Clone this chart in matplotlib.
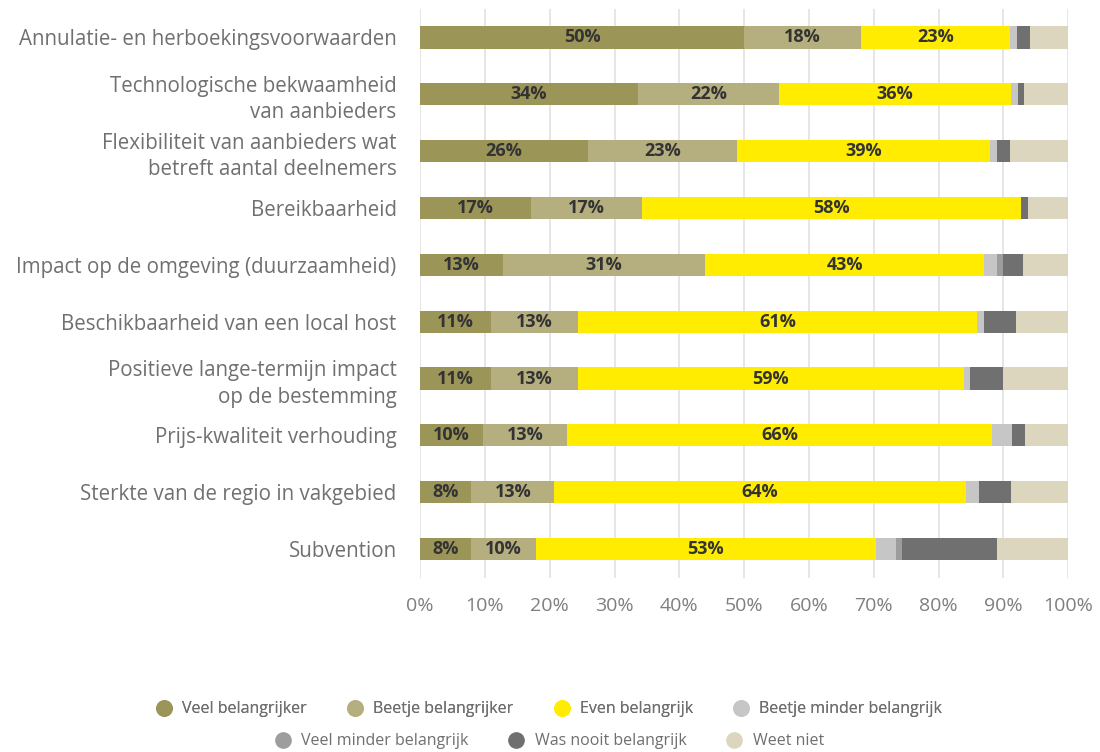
import numpy as np
import matplotlib.pyplot as plt
from matplotlib.lines import Line2D

plt.rcParams['font.family'] = ['Open Sans', 'DejaVu Sans']

# categorieën (van boven naar beneden)
categories = [
    "Annulatie- en herboekingsvoorwaarden",
    "Technologische bekwaamheid\nvan aanbieders",
    "Flexibiliteit van aanbieders wat\nbetreft aantal deelnemers",
    "Bereikbaarheid",
    "Impact op de omgeving (duurzaamheid)",
    "Beschikbaarheid van een local host",
    "Positieve lange-termijn impact\nop de bestemming",
    "Prijs-kwaliteit verhouding",
    "Sterkte van de regio in vakgebied",
    "Subvention",
]

series_names = [
    "Veel belangrijker", "Beetje belangrijker", "Even belangrijk",
    "Beetje minder belangrijk", "Veel minder belangrijk",
    "Was nooit belangrijk", "Weet niet",
]

veel = [50, 33.6, 25.9, 17.1, 12.8, 11, 11, 9.7, 7.9, 7.9]
beetje = [18, 21.8, 23, 17.1, 31.2, 13.3, 13.3, 13, 12.8, 9.9]
even = [23.1, 35.8, 39.1, 58.6, 43, 61.7, 59.6, 65.6, 63.5, 52.6]
beetje_minder = [1, 1, 1, 0, 2, 1, 1, 3, 2, 3]
veel_minder = [0, 0, 0, 0, 1, 0, 0, 0, 0, 1]
nooit = [2, 1, 2, 1, 3, 5, 5, 2, 5, 14.7]
weet_niet = [5.9, 6.8, 9, 6.2, 7, 8, 10.1, 6.7, 8.8, 10.9]

labels_veel = [50, 34, 26, 17, 13, 11, 11, 10, 8, 8]
labels_beetje = [18, 22, 23, 17, 31, 13, 13, 13, 13, 10]
labels_even = [23, 36, 39, 58, 43, 61, 59, 66, 64, 53]

colors = ["#9c9558", "#b5ae7f", "#ffec00", "#c6c6c6", "#9d9d9d",
          "#707070", "#ddd6bf"]

data = [veel, beetje, even, beetje_minder, veel_minder, nooit, weet_niet]
bar_labels = [labels_veel, labels_beetje, labels_even]

fig = plt.figure(figsize=(11, 7.52), dpi=100)
ax = fig.add_axes([0.382, 0.232, 0.589, 0.756])

y = np.arange(len(categories))
left = np.zeros(len(categories))
for i, vals in enumerate(data):
    vals = np.array(vals, dtype=float)
    ax.barh(y, vals, left=left, height=0.39, color=colors[i], zorder=3)
    if i < 3:
        for j, v in enumerate(vals):
            ax.text(left[j] + v / 2, y[j], f"{bar_labels[i][j]}%",
                    ha='center', va='center', fontsize=13,
                    fontweight='bold', color='#333333', zorder=4)
    left += vals

ax.set_xlim(0, 100)
ax.set_ylim(len(categories) - 0.5, -0.5)
ax.set_xticks(np.arange(0, 101, 10))
ax.set_xticklabels([f"{t}%" for t in range(0, 101, 10)])
ax.set_yticks(y)
ax.set_yticklabels(categories, linespacing=1.35)
ax.tick_params(axis='x', length=0, pad=14, labelsize=14, labelcolor='#7f7f7f')
ax.tick_params(axis='y', length=0, pad=17, labelsize=14.8, labelcolor='#707070')
ax.grid(axis='x', color='#e2e2e2', linewidth=1.2, zorder=0)
for s in ax.spines.values():
    s.set_visible(False)

handles = [Line2D([], [], marker='o', linestyle='', markersize=11,
                  markerfacecolor=c, markeredgecolor=c) for c in colors]
legend_kw = dict(loc='center', frameon=False, fontsize=11.5,
                 handlelength=0.8, handletextpad=0.75, columnspacing=2.6,
                 labelcolor='#6f6f6f')
leg1 = fig.legend(handles[:4], series_names[:4],
                  bbox_to_anchor=(0.5, 0.057), ncol=4, **legend_kw)
fig.legend(handles[4:], series_names[4:],
           bbox_to_anchor=(0.5, 0.014), ncol=3, **legend_kw)
fig.add_artist(leg1)

fig.savefig("out.png", dpi=100)
